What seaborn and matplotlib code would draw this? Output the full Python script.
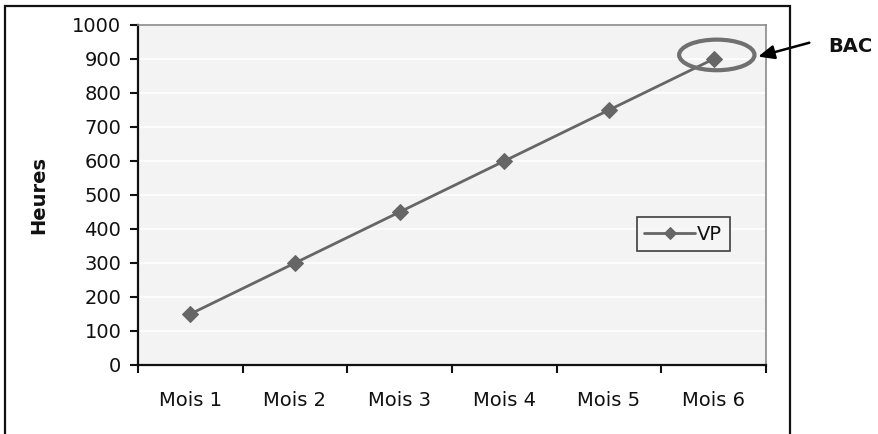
import matplotlib
matplotlib.use("Agg")
import matplotlib.pyplot as plt
from matplotlib.patches import Ellipse, Rectangle
from matplotlib.ticker import FixedLocator, MultipleLocator
import seaborn as sns
import pandas as pd

# Earned value (VP) accumulated per month, in hours
mois = ["Mois 1", "Mois 2", "Mois 3", "Mois 4", "Mois 5", "Mois 6"]
vp = [150, 300, 450, 600, 750, 900]
serie = "VP"
ylabel = "Heures"
annotation = "BAC"

df = pd.DataFrame({"Mois": mois, "Heures": vp})

sns.set_theme(style="white")
plt.rcParams["font.family"] = ["DejaVu Sans"]

fig = plt.figure(figsize=(8.79, 4.34), dpi=100)
fig.patch.set_facecolor("white")
ax = fig.add_axes([138 / 879, 1 - 365 / 434, 628 / 879, 340 / 434])
ax.set_facecolor("#f3f3f3")

line_col = "#666666"
sns.lineplot(data=df, x="Mois", y="Heures", ax=ax, color=line_col,
             linewidth=2, marker="D", markersize=8, markeredgecolor=line_col,
             label=serie, sort=False)

ax.set_xlim(-0.5, len(mois) - 0.5)
ax.set_ylim(0, 1000)

# y axis: ticks every 100, white gridlines
ax.yaxis.set_major_locator(MultipleLocator(100))
ax.grid(axis="y", color="white", linewidth=1.2)
ax.grid(axis="x", visible=False)
ax.set_axisbelow(True)

# categories centred between boundary ticks
ax.set_xticks(range(len(mois)))
ax.set_xticklabels(mois)
ax.xaxis.set_minor_locator(FixedLocator([i - 0.5 for i in range(len(mois) + 1)]))
ax.tick_params(axis="x", which="major", length=0, pad=19, labelsize=14, colors="#111111")
ax.tick_params(axis="x", which="minor", length=6, width=1.5, direction="out",
               color="#111111", bottom=True)
ax.tick_params(axis="y", which="major", length=6, width=1.5, direction="out",
               pad=6, labelsize=14, colors="#111111", left=True)

for side in ("left", "bottom"):
    ax.spines[side].set_color("#111111")
    ax.spines[side].set_linewidth(1.6)
for side in ("top", "right"):
    ax.spines[side].set_color("#8a8a8a")
    ax.spines[side].set_linewidth(1.2)

ax.set_xlabel("")
ax.set_ylabel(ylabel, fontsize=14, fontweight="bold", color="#111111")
ax.yaxis.set_label_coords(-0.143, 0.5)

leg = ax.legend(loc="center", bbox_to_anchor=(0.868, 0.385), frameon=True,
                fancybox=False, fontsize=14, handlelength=2.6, handletextpad=0.1,
                borderpad=0.4, borderaxespad=0, markerscale=0.75)
leg.get_frame().set_edgecolor("#111111")
leg.get_frame().set_linewidth(1.2)
leg.get_frame().set_facecolor("#f6f6f6")
for t in leg.get_texts():
    t.set_color("#111111")

# highlight on the final point (budget at completion)
last = len(mois) - 1
ax.add_patch(Ellipse((last + 0.03, vp[-1] + 12), 0.72, 90, fill=False,
                     edgecolor="#707070", linewidth=3, clip_on=False, zorder=5))
ax.annotate("", xy=(last + 0.40, vp[-1] + 5), xycoords="data",
            xytext=(812, 392), textcoords="figure pixels",
            arrowprops=dict(arrowstyle="-|>,head_length=0.8,head_width=0.35",
                            color="black", linewidth=1.8),
            annotation_clip=False)
fig.text(828 / 879, 1 - 46 / 434, annotation, ha="left", va="center",
         fontsize=14, fontweight="bold", color="#111111")

# outer chart frame
fig.patches.append(Rectangle((5 / 879, -0.1), 785 / 879, 1.1 - 6 / 434,
                             transform=fig.transFigure, fill=False,
                             edgecolor="#111111", linewidth=1.6))

fig.savefig("out.png", dpi=100)
